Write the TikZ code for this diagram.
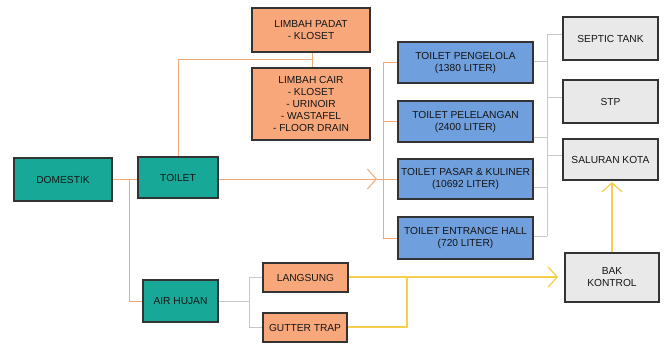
\documentclass[tikz,border=0pt]{standalone}
\usepackage{fontspec}
\setmainfont{Liberation Sans}
\usetikzlibrary{arrows.meta}
\definecolor{tealbox}{HTML}{17A898}
\definecolor{peachbox}{HTML}{F8A77B}
\definecolor{bluebox}{HTML}{6F9FDD}
\definecolor{greybox}{HTML}{E9E9E9}
\definecolor{boxline}{HTML}{333333}
\definecolor{peachline}{HTML}{F3A878}
\definecolor{greyline}{HTML}{C8C8C8}
\definecolor{yellowline}{HTML}{F7CF4F}
\definecolor{txt}{HTML}{151515}
\tikzset{
  box/.style={rectangle, draw=boxline, line width=1.1pt, inner sep=0pt,
    align=center, text=txt, font=\fontsize{10.2}{12}\selectfont},
  tealnode/.style={box, fill=tealbox},
  peachnode/.style={box, fill=peachbox},
  bluenode/.style={box, fill=bluebox},
  greynode/.style={box, fill=greybox},
  oline/.style={draw=peachline, line width=1pt},
  gline/.style={draw=greyline, line width=1pt},
  yline/.style={draw=yellowline, line width=1.3pt},
  chev/.style={-{Straight Barb[length=9pt,width=20pt]}},
}
\begin{document}
\begin{tikzpicture}[x=1pt,y=-1pt]
\useasboundingbox (0,0) rectangle (667,343);

% source and first split
\node[tealnode, minimum width=98pt, minimum height=43pt] (dom) at (63,179.5) {DOMESTIK};
\node[tealnode, minimum width=80pt, minimum height=41pt] (toilet) at (178,177.5) {TOILET};
\node[tealnode, minimum width=75pt, minimum height=42pt] (hujan) at (180.5,301) {AIR HUJAN};

% waste types
\node[peachnode, minimum width=118pt, minimum height=44pt] (padat) at (311,30) {LIMBAH PADAT\\- KLOSET};
\node[peachnode, minimum width=118pt, minimum height=72pt] (cair) at (311,104) {LIMBAH CAIR\\- KLOSET\\- URINOIR\\- WASTAFEL\\- FLOOR DRAIN};

% rainwater branches
\node[peachnode, minimum width=85pt, minimum height=29pt] (langsung) at (305.5,277.5) {LANGSUNG};
\node[peachnode, minimum width=84pt, minimum height=29pt] (gutter) at (305,327.5) {GUTTER TRAP};

% toilet groups
\node[bluenode, minimum width=135pt, minimum height=41pt] (t1) at (465.5,62.5) {TOILET PENGELOLA\\(1380 LITER)};
\node[bluenode, minimum width=135pt, minimum height=41pt] (t2) at (465.5,121.5) {TOILET PELELANGAN\\(2400 LITER)};
\node[bluenode, minimum width=135pt, minimum height=40pt] (t3) at (465.5,179) {TOILET PASAR \& KULINER\\(10692 LITER)};
\node[bluenode, minimum width=135pt, minimum height=42pt] (t4) at (465.5,238) {TOILET ENTRANCE HALL\\(720 LITER)};

% destinations
\node[greynode, minimum width=95pt, minimum height=43pt] (septic) at (610.5,38.5) {SEPTIC TANK};
\node[greynode, minimum width=95pt, minimum height=43pt] (stp) at (610.5,101.5) {STP};
\node[greynode, minimum width=95pt, minimum height=41pt] (kota) at (610.5,159.5) {SALURAN KOTA};
\node[greynode, minimum width=94pt, minimum height=49pt] (bak) at (612,277.5) {BAK\\KONTROL};

% domestic split
\coordinate (j1) at (129,179);
\draw[oline] (dom.east |- j1) -- (toilet.west |- j1);
\draw[oline] (j1) -- (129,301) -- (hujan.west |- 0,301);

% toilet to waste types
\draw[oline] (toilet.north) -- (178,59) -- (312,59);
\draw[oline] (312,0 |- padat.south) -- (312,0 |- cair.north);

% toilet to toilet groups
\coordinate (tip1) at (377,179);
\draw[oline, chev] (toilet.east |- tip1) -- (tip1);
\draw[oline] (tip1) -- (383,179);
\draw[oline] (383,62.5) -- (383,238);
\foreach \t in {t1,t2,t3,t4} \draw[oline] (383,0 |- \t.west) -- (\t.west);

% toilet groups to destinations
\draw[gline] (547,34) -- (547,236);
\draw[gline] (t1.east |- 0,61) -- (547,61);
\draw[gline] (t2.east |- 0,137) -- (547,137);
\draw[gline] (t3.east |- 0,187) -- (547,187);
\draw[gline] (t4.east |- 0,236) -- (547,236);
\draw[gline] (547,34) -- (septic.west |- 0,34);
\draw[gline] (547,97) -- (stp.west |- 0,97);
\draw[gline] (547,155) -- (kota.west |- 0,155);

% rainwater split
\draw[gline] (hujan.east) -- (249,301);
\draw[gline] (249,0 |- langsung.west) -- (langsung.west);
\draw[gline] (249,0 |- gutter.west) -- (gutter.west);
\draw[gline] (249,0 |- langsung.west) -- (249,0 |- gutter.west);

% rainwater to control box and city drain
\coordinate (tip2) at (558,277);
\coordinate (g1) at (407,327);
\draw[yline, chev] (langsung.east |- tip2) -- (tip2);
\draw[yline] (gutter.east |- g1) -- (g1) -- (g1 |- tip2);
\draw[yline, chev] (bak.north) -- (bak.north |- 0,182);
\end{tikzpicture}
\end{document}
